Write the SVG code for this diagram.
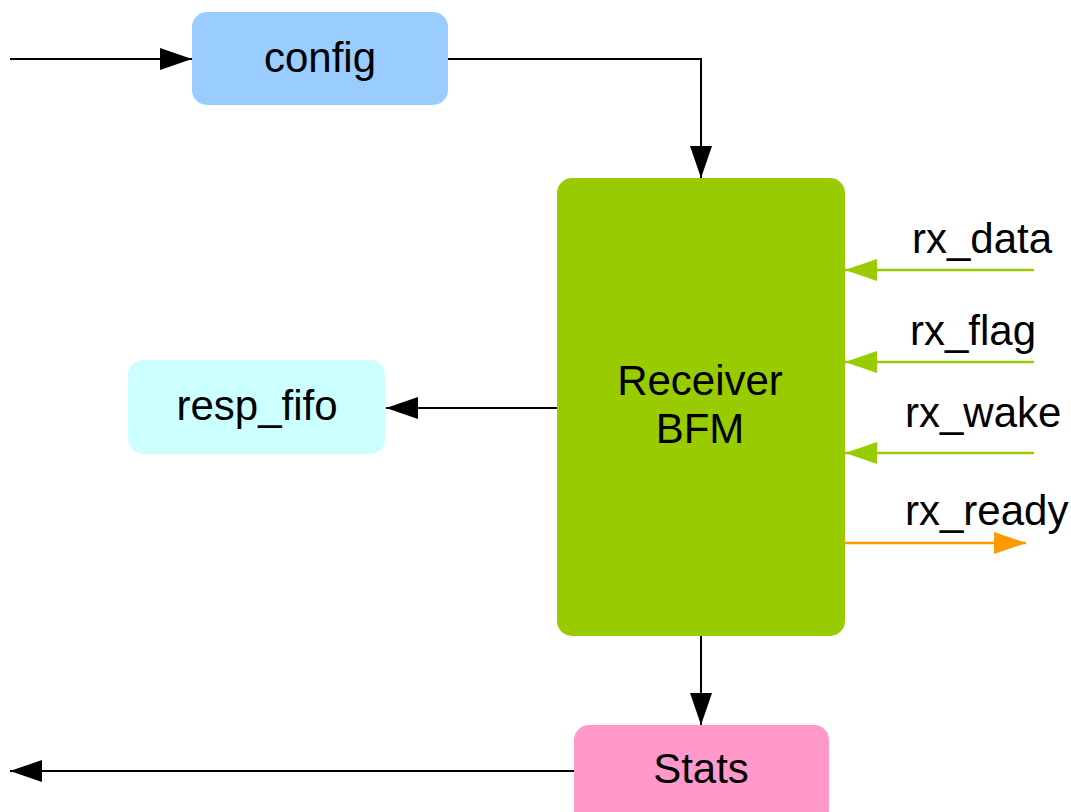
<svg xmlns="http://www.w3.org/2000/svg" width="1071" height="812" viewBox="0 0 1071 812">
  <defs>
    <style>
      text { font-family: "Liberation Sans", Arial, sans-serif; font-size: 42px; fill: #000; }
      .mid { text-anchor: middle; }
      .blk { stroke: #000; stroke-width: 2; fill: none; }
      .grn { stroke: #99CC00; stroke-width: 2.5; fill: none; }
      .org { stroke: #FF9900; stroke-width: 2.5; fill: none; }
    </style>
    <marker id="ahBlack" viewBox="0 0 32 22" refX="32" refY="11" markerWidth="32" markerHeight="22" markerUnits="userSpaceOnUse" orient="auto">
      <path d="M0,0 L32,11 L0,22 Z" fill="#000"/>
    </marker>
    <marker id="ahGreen" viewBox="0 0 32 22" refX="32" refY="11" markerWidth="32" markerHeight="22" markerUnits="userSpaceOnUse" orient="auto">
      <path d="M0,0 L32,11 L0,22 Z" fill="#99CC00"/>
    </marker>
    <marker id="ahOrange" viewBox="0 0 32 22" refX="32" refY="11" markerWidth="32" markerHeight="22" markerUnits="userSpaceOnUse" orient="auto">
      <path d="M0,0 L32,11 L0,22 Z" fill="#FF9900"/>
    </marker>
  </defs>

  <rect width="1071" height="812" fill="#fff"/>

  <g id="connectors">
    <path class="blk" d="M10,59 L192,59" marker-end="url(#ahBlack)"/>
    <path class="blk" d="M448,59 L701,59 L701,178" marker-end="url(#ahBlack)"/>
    <path class="blk" d="M557,408 L386,408" marker-end="url(#ahBlack)"/>
    <path class="blk" d="M701,636 L701,725" marker-end="url(#ahBlack)"/>
    <path class="blk" d="M574,771 L10,771" marker-end="url(#ahBlack)"/>
    <path class="grn" d="M1034,270 L845,270" marker-end="url(#ahGreen)"/>
    <path class="grn" d="M1034,362 L845,362" marker-end="url(#ahGreen)"/>
    <path class="grn" d="M1034,453 L845,453" marker-end="url(#ahGreen)"/>
    <path class="org" d="M845,543 L1026,543" marker-end="url(#ahOrange)"/>
    <text x="912" y="253">rx_data</text>
    <text x="910" y="345">rx_flag</text>
    <text x="905" y="427">rx_wake</text>
    <text x="905" y="525">rx_ready</text>
  </g>

  <g id="config">
    <rect x="192" y="12" width="256" height="93" rx="15" fill="#99CCFF"/>
    <text class="mid" x="320" y="72">config</text>
  </g>

  <g id="receiver-bfm">
    <rect x="557" y="178" width="288" height="458" rx="15" fill="#99CC00"/>
    <text class="mid" x="700" y="395">Receiver</text>
    <text class="mid" x="700" y="443">BFM</text>
  </g>

  <g id="resp-fifo">
    <rect x="128" y="360" width="257" height="94" rx="15" fill="#CCFFFF"/>
    <text class="mid" x="257" y="420">resp_fifo</text>
  </g>

  <g id="stats">
    <rect x="574" y="725" width="255" height="100" rx="15" fill="#FF99CC"/>
    <text class="mid" x="701" y="783">Stats</text>
  </g>
</svg>
